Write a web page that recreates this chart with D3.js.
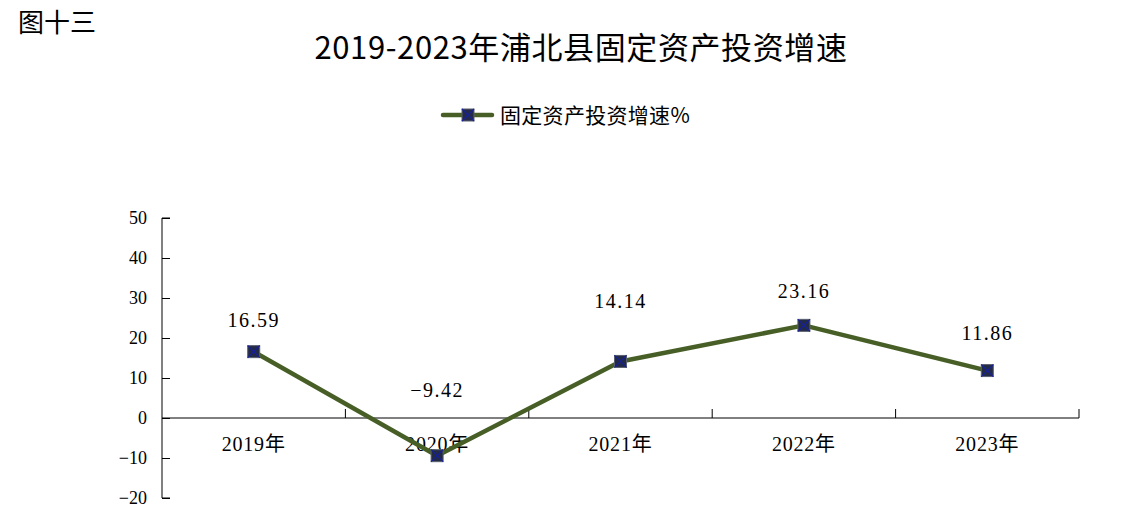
<!DOCTYPE html>
<html><head><meta charset="utf-8">
<script src="https://cdn.jsdelivr.net/npm/d3@7/dist/d3.min.js"></script>
<style>body{margin:0;background:#fff}svg{display:block}</style>
</head><body>
<svg id="c" width="1140" height="515"></svg>
<script>
const categories = ["2019年","2020年","2021年","2022年","2023年"];
const values = [16.59, -9.42, 14.14, 23.16, 11.86];
const yTicks = [-20,-10,0,10,20,30,40,50];
const seriesName = "固定资产投资增速%";
const chartTitle = "2019-2023年浦北县固定资产投资增速";
const figLabel = "图十三";

// style: per-label vertical offsets (px above point)
const labelOffsets = [32, 66, 60, 34, 38];

const svg = d3.select("#c");
const serif = "'Liberation Serif','DejaVu Serif','Noto Sans CJK SC',serif";
const sans = "'Noto Sans CJK SC','Noto Sans',sans-serif";
const lineColor = "#475f27";
const fmt = d3.format(".2f");

const x = d3.scaleBand().domain(categories).range([162, 1079]);
const y = d3.scaleLinear().domain([-20, 50]).range([498, 218]);

svg.append("text").attr("x", 18).attr("y", 32).attr("font-family", sans)
  .attr("font-size", 26).attr("fill", "#000").text(figLabel);
svg.append("text").attr("x", 581).attr("y", 59).attr("text-anchor", "middle")
  .attr("font-family", sans).attr("font-size", 31).attr("letter-spacing", 0.6)
  .attr("fill", "#000").text(chartTitle);

// y axis
const yAxis = svg.append("g").attr("transform", "translate(162,0)")
  .call(d3.axisRight(y).tickValues(yTicks).tickSize(8).tickFormat(d3.format("d")));
yAxis.select(".domain").attr("d", `M8,${y(50)}H0V${y(-20)}H8`).attr("stroke", "#000");
yAxis.selectAll(".tick line").attr("stroke", "#000");
yAxis.selectAll(".tick text").attr("x", -15).attr("text-anchor", "end")
  .attr("font-family", serif).attr("font-size", 18).attr("fill", "#000");

// x axis at zero
const xg = svg.append("g").attr("transform", `translate(0,${y(0)})`);
xg.append("line").attr("x1", 162).attr("x2", 1079).attr("stroke", "#000").attr("stroke-width", 1);
const bounds = categories.map(c => x(c)).concat([x.range()[1]]).slice(1);
xg.selectAll("line.t").data(bounds).join("line").attr("class", "t")
  .attr("x1", d => d).attr("x2", d => d).attr("y1", 0).attr("y2", -9).attr("stroke", "#000");
xg.selectAll("text").data(categories).join("text")
  .attr("x", d => x(d) + x.bandwidth() / 2).attr("y", 33).attr("text-anchor", "middle")
  .attr("font-family", serif).attr("font-size", 20).attr("letter-spacing", 0.8)
  .attr("fill", "#000").text(d => d);

// line
const pts = categories.map((c, i) => [x(c) + x.bandwidth() / 2, y(values[i])]);
svg.append("path").attr("d", d3.line()(pts)).attr("fill", "none")
  .attr("stroke", lineColor).attr("stroke-width", 4.5).attr("stroke-linejoin", "round");

function marker(g, cx, cy) {
  const s = 6;
  g.append("rect").attr("x", cx - s).attr("y", cy - s).attr("width", 2 * s).attr("height", 2 * s)
    .attr("fill", "#232a45").attr("stroke", "#5b6070").attr("stroke-width", 1);
  g.append("path").attr("d", `M${cx - s},${cy - s}L${cx + s},${cy + s}M${cx + s},${cy - s}L${cx - s},${cy + s}`)
    .attr("stroke", "#1620a0").attr("stroke-width", 1.2);
}
const mg = svg.append("g");
pts.forEach(p => marker(mg, p[0], p[1]));

svg.append("g").selectAll("text").data(pts).join("text")
  .attr("x", d => d[0]).attr("y", (d, i) => d[1] - labelOffsets[i] + 7)
  .attr("text-anchor", "middle").attr("font-family", serif).attr("font-size", 20)
  .attr("letter-spacing", 1.5).attr("fill", "#000").text((d, i) => fmt(values[i]));

// legend
const lg = svg.append("g");
lg.append("line").attr("x1", 443).attr("x2", 492).attr("y1", 115).attr("y2", 115)
  .attr("stroke", lineColor).attr("stroke-width", 4.5).attr("stroke-linecap", "round");
marker(lg, 468, 115);
lg.append("text").attr("x", 500).attr("y", 123).attr("font-family", sans)
  .attr("font-size", 21).attr("letter-spacing", 0.3).attr("fill", "#000").text(seriesName);
</script>
</body></html>
